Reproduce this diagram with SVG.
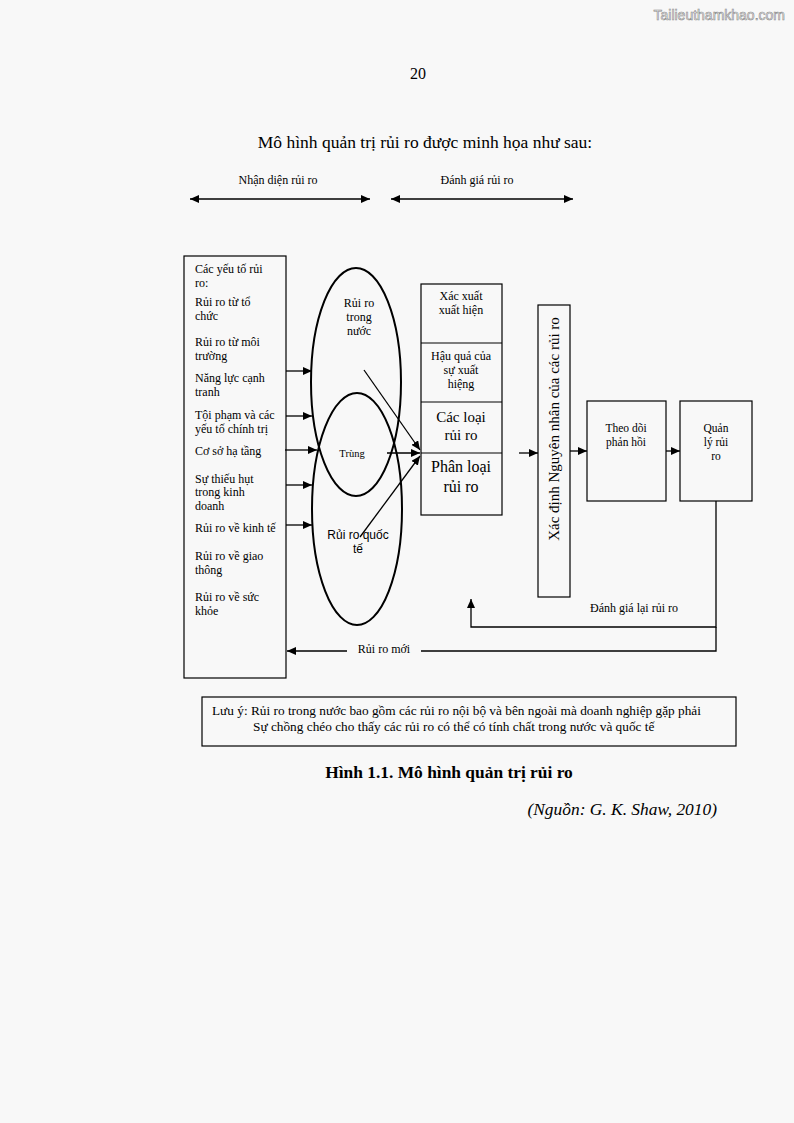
<svg xmlns="http://www.w3.org/2000/svg" width="794" height="1123" viewBox="0 0 794 1123">
<defs>
<marker id="ah" markerWidth="9" markerHeight="8" refX="9" refY="4" orient="auto" markerUnits="userSpaceOnUse">
<path d="M0,0 L9,4 L0,8 Z" fill="#000"/>
</marker>
<marker id="ahs" markerWidth="9" markerHeight="8" refX="0" refY="4" orient="auto" markerUnits="userSpaceOnUse">
<path d="M9,0 L0,4 L9,8 Z" fill="#000"/>
</marker>
<style>
.t{font-family:"Liberation Serif","Times New Roman",serif;fill:#000}
.s{font-family:"Liberation Sans",Arial,sans-serif;fill:#000}
.box{fill:none;stroke:#000;stroke-width:1.2}
.ln{fill:none;stroke:#000;stroke-width:1.3}
.el{fill:none;stroke:#000;stroke-width:2}
.f11{font-size:11.5px}
.f12{font-size:12px}
</style>
</defs>
<rect width="794" height="1123" fill="#f8f8f8"/>
<text x="785" y="20" text-anchor="end" font-family="Liberation Sans,Arial,sans-serif" font-size="14" fill="#fff" stroke="#888" stroke-width="0.6">Tailieuthamkhao.com</text>
<text class="t" x="418" y="79" font-size="16" text-anchor="middle">20</text>
<text class="t" x="425" y="148" font-size="17.5" text-anchor="middle">Mô hình quản trị rủi ro được minh họa như sau:</text>

<g id="header">
<text class="t f12" x="278" y="184" text-anchor="middle">Nhận diện rủi ro</text>
<text class="t f12" x="477" y="184" text-anchor="middle">Đánh giá rủi ro</text>
</g>

<g id="left-box">
<rect class="box" x="184" y="256" width="102" height="422"/>
<g class="t f12">
<text x="195" y="273">Các yếu tố rủi</text>
<text x="195" y="287">ro:</text>
<text x="195" y="306">Rủi ro từ tổ</text>
<text x="195" y="320">chức</text>
<text x="195" y="346">Rủi ro từ môi</text>
<text x="195" y="360">trường</text>
<text x="195" y="382">Năng lực cạnh</text>
<text x="195" y="396">tranh</text>
<text x="195" y="419">Tội phạm và các</text>
<text x="195" y="433">yếu tố chính trị</text>
<text x="195" y="455">Cơ sở hạ tầng</text>
<text x="195" y="483">Sự thiếu hụt</text>
<text x="195" y="496">trong kinh</text>
<text x="195" y="510">doanh</text>
<text x="195" y="532">Rủi ro về kinh tế</text>
<text x="195" y="560">Rủi ro về giao</text>
<text x="195" y="574">thông</text>
<text x="195" y="601">Rủi ro về sức</text>
<text x="195" y="615">khỏe</text>
</g>
</g>

<g id="domestic">
<ellipse class="el" cx="356" cy="382" rx="45" ry="114"/>
<text class="t f12" x="359" y="307" text-anchor="middle">Rủi ro</text>
<text class="t f12" x="359" y="321" text-anchor="middle">trong</text>
<text class="t f12" x="359" y="335" text-anchor="middle">nước</text>
</g>
<g id="international">
<ellipse class="el" cx="357" cy="509" rx="45" ry="116"/>
<text class="s f12" x="358" y="539" text-anchor="middle">Rủi ro quốc</text>
<text class="s f12" x="358" y="553" text-anchor="middle">tế</text>
</g>
<g id="overlap">
<text class="t" font-size="10.5" x="352" y="457" text-anchor="middle">Trùng</text>
</g>

<g id="assess">
<rect class="box" x="421" y="284" width="81" height="231"/>
<line class="box" x1="421" y1="343" x2="502" y2="343"/>
<line class="box" x1="421" y1="402" x2="502" y2="402"/>
<line class="box" x1="421" y1="453" x2="502" y2="453"/>
<g class="t" text-anchor="middle">
<text class="f12" x="461" y="300">Xác xuất</text>
<text class="f12" x="461" y="314">xuất hiện</text>
<text class="f12" x="461" y="360">Hậu quả của</text>
<text class="f12" x="461" y="374">sự xuất</text>
<text class="f12" x="461" y="388">hiệng</text>
<text font-size="15" x="461" y="422">Các loại</text>
<text font-size="15" x="461" y="440">rủi ro</text>
<text font-size="16" x="461" y="472">Phân loại</text>
<text font-size="16" x="461" y="492">rủi ro</text>
</g>
</g>

<g id="cause">
<rect class="box" x="538" y="305" width="32" height="292"/>
<text class="t" font-size="15" text-anchor="middle" transform="translate(559,429) rotate(-90)">Xác định Nguyên nhân của các rủi ro</text>
</g>

<g id="monitor">
<rect class="box" x="587" y="401" width="79" height="100"/>
<text class="t f11" x="626" y="432" text-anchor="middle">Theo dõi</text>
<text class="t f11" x="626" y="446" text-anchor="middle">phản hồi</text>
</g>

<g id="manage">
<rect class="box" x="680" y="401" width="72" height="100"/>
<text class="t f11" x="716" y="432" text-anchor="middle">Quản</text>
<text class="t f11" x="716" y="446" text-anchor="middle">lý rủi</text>
<text class="t f11" x="716" y="460" text-anchor="middle">ro</text>
</g>

<g id="connectors">
<line class="ln" x1="190" y1="199" x2="370" y2="199" marker-start="url(#ahs)" marker-end="url(#ah)"/>
<line class="ln" x1="391" y1="199" x2="573" y2="199" marker-start="url(#ahs)" marker-end="url(#ah)"/>
<line class="ln" x1="286" y1="371" x2="312" y2="371" marker-end="url(#ah)"/>
<line class="ln" x1="286" y1="416" x2="312" y2="416" marker-end="url(#ah)"/>
<line class="ln" x1="285" y1="450" x2="317" y2="450" marker-end="url(#ah)"/>
<line class="ln" x1="286" y1="485" x2="312" y2="485" marker-end="url(#ah)"/>
<line class="ln" x1="286" y1="525" x2="312" y2="525" marker-end="url(#ah)"/>
<line class="ln" x1="364" y1="370" x2="420" y2="450" marker-end="url(#ah)"/>
<line class="ln" x1="387" y1="453" x2="420" y2="453" marker-end="url(#ah)"/>
<line class="ln" x1="360" y1="537" x2="420" y2="456" marker-end="url(#ah)"/>
<line class="ln" x1="519" y1="453" x2="538" y2="453" marker-end="url(#ah)"/>
<line class="ln" x1="570" y1="451" x2="587" y2="451" marker-end="url(#ah)"/>
<line class="ln" x1="666" y1="451" x2="680" y2="451" marker-end="url(#ah)"/>
<polyline class="ln" points="716,501 716,627 471,627 471,599" marker-end="url(#ah)"/>
<polyline class="ln" points="716,627 716,651 421,651"/>
<line class="ln" x1="347" y1="651" x2="287" y2="651" marker-end="url(#ah)"/>
<text class="t f12" x="634" y="612" text-anchor="middle">Đánh giá lại rủi ro</text>
<text class="t f12" x="384" y="653" text-anchor="middle">Rủi ro mới</text>
</g>

<g id="note">
<rect class="box" x="202" y="697" width="534" height="49"/>
<text class="t" font-size="13.3" x="212" y="715">Lưu ý: Rủi ro trong nước bao gồm các rủi ro nội bộ và bên ngoài mà doanh nghiệp gặp phải</text>
<text class="t" font-size="13.3" x="253" y="731">Sự chồng chéo cho thấy các rủi ro có thể có tính chất trong nước và quốc tế</text>
</g>
<text class="t" font-size="17.4" font-weight="bold" x="449" y="778" text-anchor="middle">Hình 1.1. Mô hình quản trị rủi ro</text>
<text class="t" font-size="17.4" font-style="italic" x="717" y="815" text-anchor="end">(Nguồn: G. K. Shaw, 2010)</text>
</svg>
